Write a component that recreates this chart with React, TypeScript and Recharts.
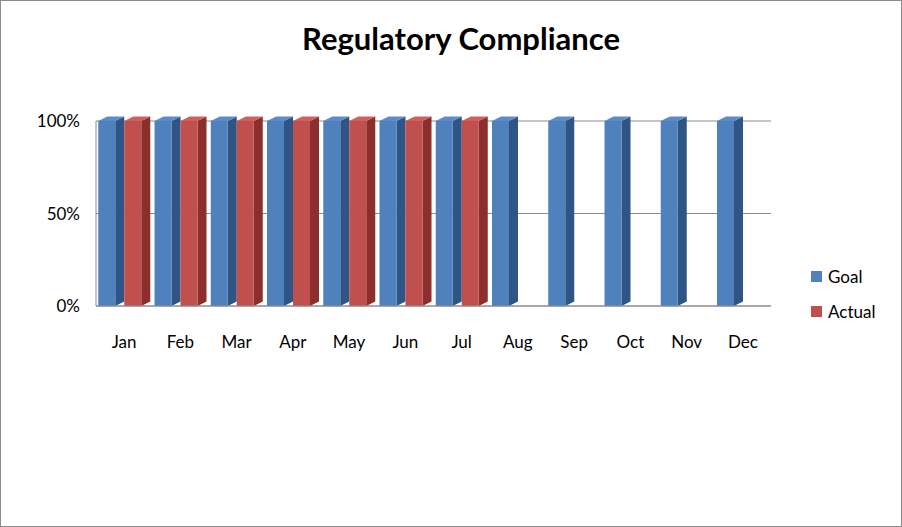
import React from "react";
import { BarChart, Bar, XAxis, YAxis, CartesianGrid } from "recharts";

const months = ["Jan", "Feb", "Mar", "Apr", "May", "Jun", "Jul", "Aug", "Sep", "Oct", "Nov", "Dec"];
const goal = [1, 1, 1, 1, 1, 1, 1, 1, 1, 1, 1, 1];
const actual = [1, 1, 1, 1, 1, 1, 1, null, null, null, null, null];
const yTicks = [0, 0.5, 1];

const data = months.map((m, i) => ({ month: m, goal: goal[i], actual: actual[i] }));

const FONT = "Lato, 'Open Sans', sans-serif";

// fake 3d box: front face, darker side, lighter top
const makeBox = (front: string, side: string, top: string) => (props: any) => {
  const { x, y, width, height } = props;
  if (!height || height <= 0) return null;
  const d = 9;
  const w = width - d;
  return (
    <g>
      <polygon
        points={`${x + w},${y} ${x + w + d},${y - d / 2} ${x + w + d},${y + height - d / 2} ${x + w},${y + height}`}
        fill={side}
      />
      <polygon points={`${x},${y} ${x + d},${y - d / 2} ${x + w + d},${y - d / 2} ${x + w},${y}`} fill={top} />
      <rect x={x} y={y} width={w} height={height} fill={front} />
    </g>
  );
};

const GoalBox = makeBox("#4F81BD", "#2F5587", "#5B8CC8");
const ActualBox = makeBox("#C0504D", "#8B2E2C", "#D0605D");

const App: React.FC = () => {
  return (
    <div
      style={{
        position: "fixed",
        left: 0,
        top: 0,
        width: 900,
        height: 525,
        border: "1px solid #8c8c8c",
        background: "#fff",
        fontFamily: FONT,
      }}
    >
      <div
        style={{
          position: "absolute",
          top: 18,
          left: 0,
          width: 920,
          textAlign: "center",
          fontSize: 31,
          fontWeight: 700,
          color: "#000",
        }}
      >
        Regulatory Compliance
      </div>
      <BarChart
        width={900}
        height={525}
        data={data}
        margin={{ top: 120, right: 130, bottom: 190, left: 0 }}
        barCategoryGap="4%"
        barGap={0}
      >
        <CartesianGrid vertical={false} stroke="#8c8c8c" />
        <XAxis
          dataKey="month"
          tickLine={false}
          axisLine={{ stroke: "#8c8c8c" }}
          tick={{ fill: "#000", fontSize: 17, fontFamily: FONT }}
          dy={22}
        />
        <YAxis
          domain={[0, 1]}
          ticks={yTicks}
          width={95}
          tickLine={false}
          axisLine={{ stroke: "#8c8c8c" }}
          tickFormatter={(v: number) => `${Math.round(v * 100)}%`}
          tick={{ fill: "#000", fontSize: 17, fontFamily: FONT }}
          dx={-8}
        />
        <Bar dataKey="goal" name="Goal" shape={GoalBox} isAnimationActive={false} />
        <Bar dataKey="actual" name="Actual" shape={ActualBox} isAnimationActive={false} />
      </BarChart>
      <div style={{ position: "absolute", left: 810, top: 265, fontSize: 17, color: "#000" }}>
        <div style={{ display: "flex", alignItems: "center", marginBottom: 14 }}>
          <span style={{ width: 11, height: 11, background: "#4F81BD", marginRight: 6 }} />
          Goal
        </div>
        <div style={{ display: "flex", alignItems: "center" }}>
          <span style={{ width: 11, height: 11, background: "#C0504D", marginRight: 6 }} />
          Actual
        </div>
      </div>
    </div>
  );
};

export default App;
